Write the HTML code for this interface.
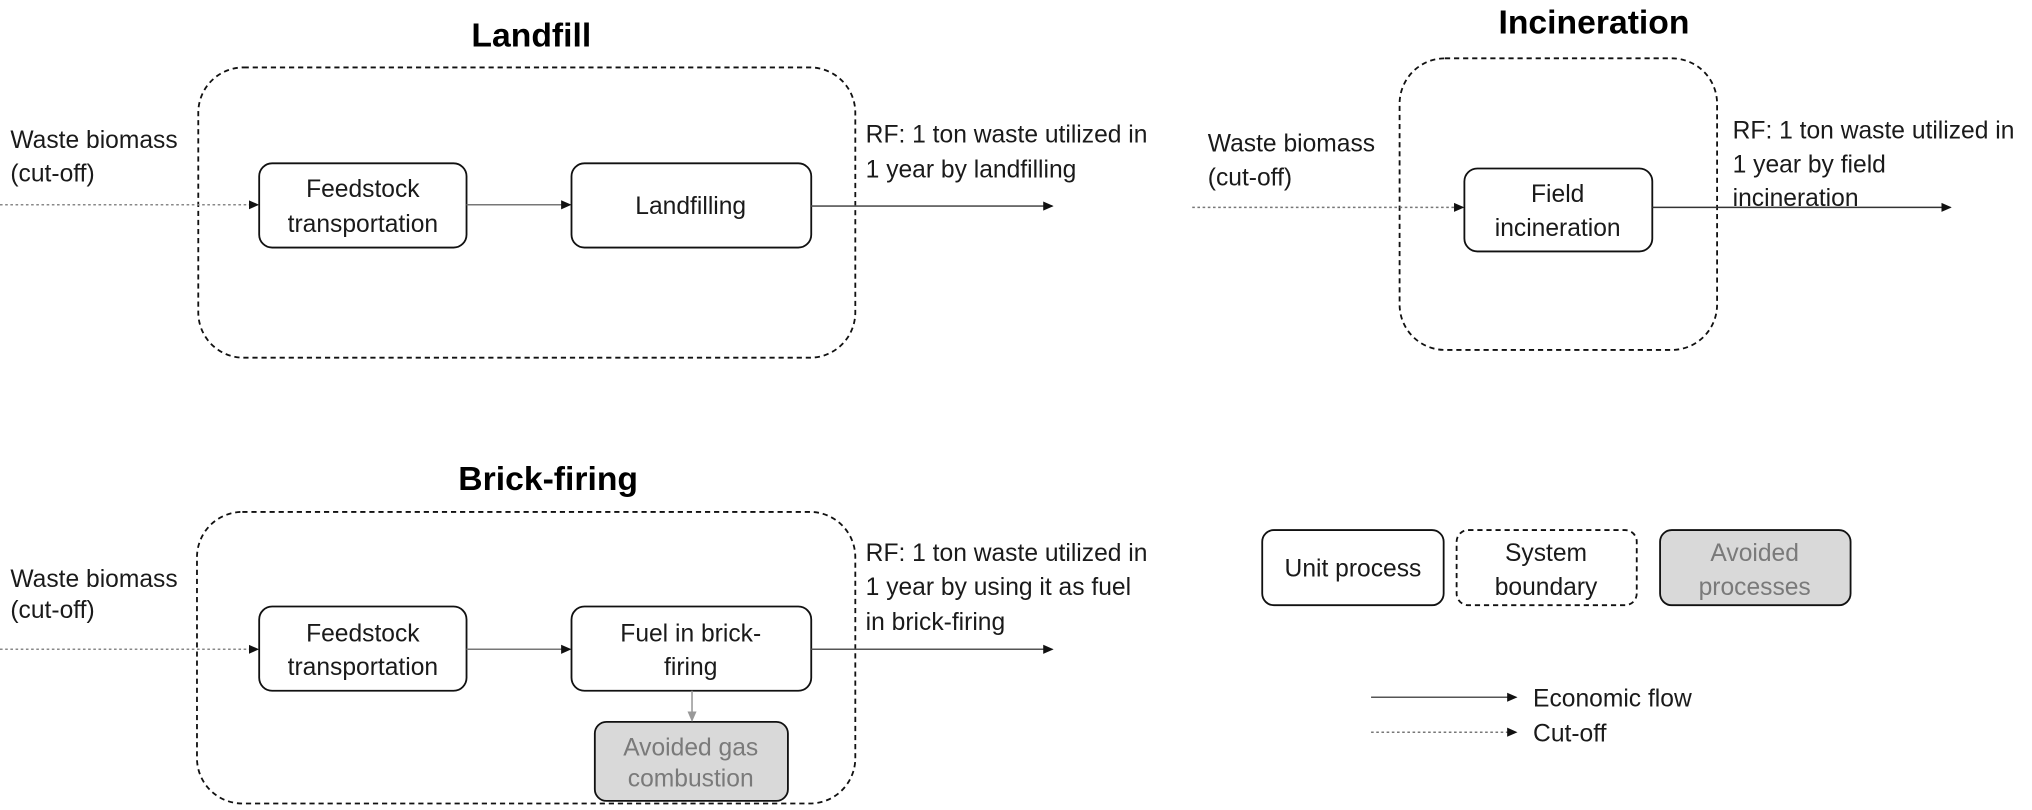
<!DOCTYPE html>
<html><head><meta charset="utf-8"><style>
html,body{margin:0;padding:0;background:#fff;}
svg{display:block;}
text{font-family:"Liberation Sans",sans-serif;fill:#1a1a1a;font-size:19px;}
.t{font-weight:bold;font-size:26px;fill:#000;}
.g{fill:#7a7a7a;}
</style></head><body>
<svg width="2032" height="810" viewBox="0 0 1568 625" xmlns="http://www.w3.org/2000/svg">
<defs>
<marker id="a" markerWidth="8" markerHeight="8" refX="7" refY="4" orient="auto" markerUnits="userSpaceOnUse"><path d="M0,0.5 L8,4 L0,7.5z" fill="#111"/></marker>
<marker id="ag" markerWidth="8" markerHeight="8" refX="7" refY="4" orient="auto" markerUnits="userSpaceOnUse"><path d="M0,0.5 L8,4 L0,7.5z" fill="#999"/></marker>
</defs>
<g fill="none" stroke="#111" stroke-width="1.4">
<rect x="153" y="52" width="507" height="224" rx="35" stroke-dasharray="4,3"/>
<rect x="200" y="126" width="160" height="65" rx="10"/>
<rect x="441" y="126" width="185" height="65" rx="10"/>
<rect x="1080" y="45" width="245" height="225" rx="35" stroke-dasharray="4,3"/>
<rect x="1130" y="130" width="145" height="64" rx="10"/>
<rect x="152" y="395" width="508" height="225" rx="35" stroke-dasharray="4,3"/>
<rect x="200" y="468" width="160" height="65" rx="10"/>
<rect x="441" y="468" width="185" height="65" rx="10"/>
<rect x="459" y="557" width="149" height="61" rx="9" fill="#d9d9d9"/>
<rect x="974" y="409" width="140" height="58" rx="9"/>
<rect x="1124" y="409" width="139" height="58" rx="9" stroke-dasharray="4,3"/>
<rect x="1281" y="409" width="147" height="58" rx="9" fill="#d9d9d9"/>
</g>
<g stroke-width="1.2" fill="none">
<line x1="0" y1="158" x2="199" y2="158" stroke="#888" stroke-dasharray="2,2" marker-end="url(#a)"/>
<line x1="360" y1="158" x2="440" y2="158" stroke="#777" marker-end="url(#a)"/>
<line x1="626" y1="159" x2="812" y2="159" stroke="#555" marker-end="url(#a)"/>
<line x1="920" y1="160" x2="1129" y2="160" stroke="#777" stroke-dasharray="2,2" marker-end="url(#a)"/>
<line x1="1275" y1="160" x2="1505" y2="160" stroke="#333" marker-end="url(#a)"/>
<line x1="0" y1="501" x2="199" y2="501" stroke="#888" stroke-dasharray="2,2" marker-end="url(#a)"/>
<line x1="360" y1="501" x2="440" y2="501" stroke="#777" marker-end="url(#a)"/>
<line x1="626" y1="501" x2="812" y2="501" stroke="#555" marker-end="url(#a)"/>
<line x1="534" y1="533" x2="534" y2="556" stroke="#999" marker-end="url(#ag)"/>
<line x1="1058" y1="538" x2="1170" y2="538" stroke="#555" marker-end="url(#a)"/>
<line x1="1058" y1="565" x2="1170" y2="565" stroke="#777" stroke-dasharray="2,2" marker-end="url(#a)"/>
</g>
<text class="t" x="410" y="36" text-anchor="middle">Landfill</text>
<text class="t" x="1230" y="26" text-anchor="middle">Incineration</text>
<text class="t" x="423" y="378" text-anchor="middle">Brick-firing</text>
<text x="8" y="114">Waste biomass</text><text x="8" y="140">(cut-off)</text>
<text x="280" y="152" text-anchor="middle">Feedstock</text><text x="280" y="179" text-anchor="middle">transportation</text>
<text x="533" y="165" text-anchor="middle">Landfilling</text>
<text x="668" y="110">RF: 1 ton waste utilized in</text><text x="668" y="137">1 year by landfilling</text>
<text x="932" y="117">Waste biomass</text><text x="932" y="143">(cut-off)</text>
<text x="1202" y="156" text-anchor="middle">Field</text><text x="1202" y="182" text-anchor="middle">incineration</text>
<text x="1337" y="107">RF: 1 ton waste utilized in</text><text x="1337" y="133">1 year by field</text><text x="1337" y="159">incineration</text>
<text x="8" y="453">Waste biomass</text><text x="8" y="477">(cut-off)</text>
<text x="280" y="495" text-anchor="middle">Feedstock</text><text x="280" y="521" text-anchor="middle">transportation</text>
<text x="533" y="495" text-anchor="middle">Fuel in brick-</text><text x="533" y="521" text-anchor="middle">firing</text>
<text class="g" x="533" y="583" text-anchor="middle">Avoided gas</text><text class="g" x="533" y="607" text-anchor="middle">combustion</text>
<text x="668" y="433">RF: 1 ton waste utilized in</text><text x="668" y="459">1 year by using it as fuel</text><text x="668" y="486">in brick-firing</text>
<text x="1044" y="445" text-anchor="middle">Unit process</text>
<text x="1193" y="433" text-anchor="middle">System</text><text x="1193" y="459" text-anchor="middle">boundary</text>
<text class="g" x="1354" y="433" text-anchor="middle">Avoided</text><text class="g" x="1354" y="459" text-anchor="middle">processes</text>
<text x="1183" y="545">Economic flow</text>
<text x="1183" y="572">Cut-off</text>
</svg>
</body></html>
